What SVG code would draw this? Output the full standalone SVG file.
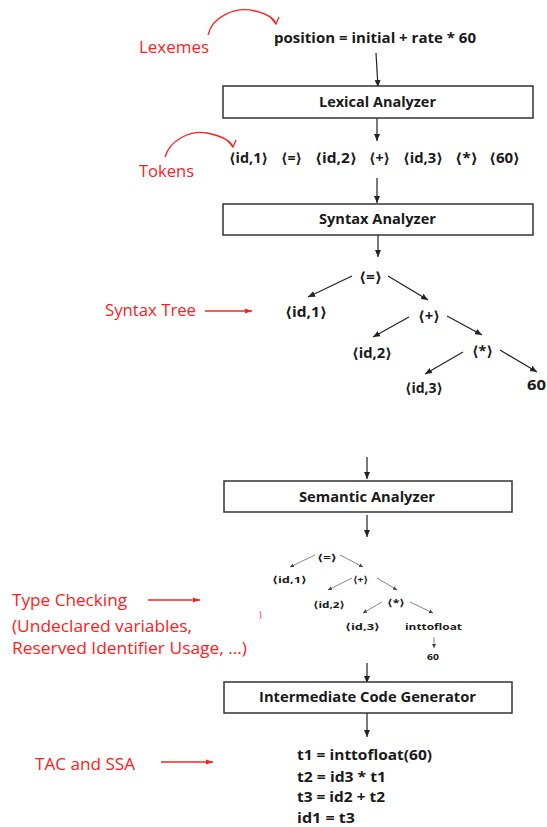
<svg xmlns="http://www.w3.org/2000/svg" width="547" height="827" viewBox="0 0 547 827">
  <defs>
    <marker id="ah" markerUnits="userSpaceOnUse" markerWidth="8" markerHeight="8" refX="7" refY="4" orient="auto">
      <path d="M0,1 L7,4 L0,7 Z" fill="#222"/>
    </marker>
    <marker id="ahs" markerUnits="userSpaceOnUse" markerWidth="5" markerHeight="5" refX="4" refY="2.5" orient="auto">
      <path d="M0,0.5 L4,2.5 L0,4.5 Z" fill="#444"/>
    </marker>
    <marker id="ahr" markerUnits="userSpaceOnUse" markerWidth="8" markerHeight="8" refX="7" refY="4" orient="auto">
      <path d="M0,1.5 L7,4 L0,6.5 Z" fill="#ff2020"/>
    </marker>
  </defs>
  <style>
    .t { font-family: "Open Sans", "DejaVu Sans", sans-serif; font-weight: bold; fill: #1a1a1a; }
    .m { font-size: 14px; }
    .s { font-size: 9.5px; }
    .r { font-family: "Open Sans", "Liberation Sans", sans-serif; font-size: 16px; fill: #ff2020; }
    .box { fill: #fff; stroke: #333; stroke-width: 1.5; }
    .e { stroke: #222; stroke-width: 1.2; fill: none; marker-end: url(#ah); }
    .es { stroke: #888; stroke-width: 1; fill: none; marker-end: url(#ahs); }
    .er { stroke: #ff2020; stroke-width: 1.3; fill: none; marker-end: url(#ahr); }
    .cr { stroke: #ff2020; stroke-width: 1.3; fill: none; }
  </style>

  <!-- connectors -->
  <g id="connectors">
    <!-- main pipeline -->
    <path class="e" d="M376,53 L378,87"/>
    <path class="e" d="M377,118 L377,141"/>
    <path class="e" d="M377,178 L377,203"/>
    <path class="e" d="M378,235 L378,257"/>
    <path class="e" d="M367,457 L367,479"/>
    <path class="e" d="M367,515 L367,537"/>
    <path class="e" d="M367,663 L367,683"/>
    <path class="e" d="M367,713 L367,737"/>
    <!-- syntax tree edges -->
    <path class="e" d="M352,276 L308,297"/>
    <path class="e" d="M388,276 L428,300"/>
    <path class="e" d="M409,317 L373,337"/>
    <path class="e" d="M447,316 L482,335"/>
    <path class="e" d="M463,352 L425,374"/>
    <path class="e" d="M500,350 L537,372"/>
    <!-- annotated tree edges -->
    <path class="es" d="M315,555 L290,567"/>
    <path class="es" d="M340,555 L363,567"/>
    <path class="es" d="M352,578 L328,590"/>
    <path class="es" d="M377,578 L397,590"/>
    <path class="es" d="M382,602 L363,613"/>
    <path class="es" d="M410,602 L433,613"/>
    <path class="es" d="M434,637 L434,648"/>
    <!-- red annotation arrows -->
    <path class="er" d="M205,311 L252,311"/>
    <path class="er" d="M148,600 L200,600"/>
    <path class="er" d="M161,762 L213,762"/>
    <path class="cr" d="M208,35 C212,17 235,6 255,11 C268,14 274,18 276,24"/>
    <path class="cr" d="M271,18 L276,24 L279,17"/>
    <path class="cr" d="M165,157 C170,140 190,130 207,133 C222,136 230,140 233,147"/>
    <path class="cr" d="M228,141 L233,147 L236,140"/>
  </g>

  <!-- source lexemes -->
  <g id="lexemes">
    <text class="t m" x="274" y="43" textLength="202" lengthAdjust="spacingAndGlyphs">position = initial + rate * 60</text>
  </g>

  <g id="lexical-analyzer">
    <rect class="box" x="223" y="86" width="310" height="32"/>
    <text class="t m" x="319" y="107" textLength="117" lengthAdjust="spacingAndGlyphs">Lexical Analyzer</text>
  </g>

  <!-- token stream -->
  <g id="tokens">
    <text class="t m" x="229" y="163" textLength="39" lengthAdjust="spacingAndGlyphs">⟨id,1⟩</text>
    <text class="t m" x="281" y="163" textLength="21" lengthAdjust="spacingAndGlyphs">⟨=⟩</text>
    <text class="t m" x="315" y="163" textLength="42" lengthAdjust="spacingAndGlyphs">⟨id,2⟩</text>
    <text class="t m" x="369" y="163" textLength="21" lengthAdjust="spacingAndGlyphs">⟨+⟩</text>
    <text class="t m" x="403" y="163" textLength="40" lengthAdjust="spacingAndGlyphs">⟨id,3⟩</text>
    <text class="t m" x="455" y="163" textLength="23" lengthAdjust="spacingAndGlyphs">⟨*⟩</text>
    <text class="t m" x="489" y="163" textLength="31" lengthAdjust="spacingAndGlyphs">⟨60⟩</text>
  </g>

  <g id="syntax-analyzer">
    <rect class="box" x="223" y="204" width="310" height="31"/>
    <text class="t m" x="319" y="224" textLength="117" lengthAdjust="spacingAndGlyphs">Syntax Analyzer</text>
  </g>

  <!-- syntax tree -->
  <g id="syntax-tree">
    <text class="t m" x="359" y="282" textLength="23" lengthAdjust="spacingAndGlyphs">⟨=⟩</text>
    <text class="t m" x="285" y="317" textLength="42" lengthAdjust="spacingAndGlyphs">⟨id,1⟩</text>
    <text class="t m" x="418" y="321" textLength="22" lengthAdjust="spacingAndGlyphs">⟨+⟩</text>
    <text class="t m" x="352" y="358" textLength="40" lengthAdjust="spacingAndGlyphs">⟨id,2⟩</text>
    <text class="t m" x="472" y="356" textLength="21" lengthAdjust="spacingAndGlyphs">⟨*⟩</text>
    <text class="t m" x="405" y="393" textLength="38" lengthAdjust="spacingAndGlyphs">⟨id,3⟩</text>
    <text class="t m" x="527" y="390" textLength="19" lengthAdjust="spacingAndGlyphs">60</text>
  </g>

  <g id="semantic-analyzer">
    <rect class="box" x="224" y="481" width="288" height="31"/>
    <text class="t m" x="299" y="502" textLength="136" lengthAdjust="spacingAndGlyphs">Semantic Analyzer</text>
  </g>

  <!-- annotated syntax tree -->
  <g id="annotated-tree">
    <text class="t s" x="317" y="561" textLength="20" lengthAdjust="spacingAndGlyphs">⟨=⟩</text>
    <text class="t s" x="272" y="583" textLength="35" lengthAdjust="spacingAndGlyphs">⟨id,1⟩</text>
    <text class="t s" x="353" y="583" textLength="15" lengthAdjust="spacingAndGlyphs">⟨+⟩</text>
    <text class="t s" x="313" y="608" textLength="32" lengthAdjust="spacingAndGlyphs">⟨id,2⟩</text>
    <text class="t s" x="387" y="606" textLength="18" lengthAdjust="spacingAndGlyphs">⟨*⟩</text>
    <text class="t s" x="345" y="630" textLength="35" lengthAdjust="spacingAndGlyphs">⟨id,3⟩</text>
    <text class="t s" x="405" y="630" textLength="57" lengthAdjust="spacingAndGlyphs">inttofloat</text>
    <text class="t s" x="427" y="660" textLength="12" lengthAdjust="spacingAndGlyphs">60</text>
  </g>

  <g id="intermediate-code-generator">
    <rect class="box" x="224" y="682" width="288" height="31"/>
    <text class="t m" x="259" y="702" textLength="217" lengthAdjust="spacingAndGlyphs">Intermediate Code Generator</text>
  </g>

  <!-- three-address code -->
  <g id="tac">
    <text class="t m" x="297" y="760" textLength="135" lengthAdjust="spacingAndGlyphs">t1 = inttofloat(60)</text>
    <text class="t m" x="297" y="782" textLength="89" lengthAdjust="spacingAndGlyphs">t2 = id3 * t1</text>
    <text class="t m" x="297" y="802" textLength="88" lengthAdjust="spacingAndGlyphs">t3 = id2 + t2</text>
    <text class="t m" x="297" y="823" textLength="58" lengthAdjust="spacingAndGlyphs">id1 = t3</text>
  </g>

  <!-- annotations -->
  <g id="labels">
    <text class="r" x="139" y="53" textLength="70" lengthAdjust="spacingAndGlyphs">Lexemes</text>
    <text class="r" x="139" y="177" textLength="55" lengthAdjust="spacingAndGlyphs">Tokens</text>
    <text class="r" x="105" y="316" textLength="91" lengthAdjust="spacingAndGlyphs">Syntax Tree</text>
    <text class="r" x="12" y="606" textLength="115" lengthAdjust="spacingAndGlyphs">Type Checking</text>
    <text class="r" x="12" y="632" textLength="180" lengthAdjust="spacingAndGlyphs">(Undeclared variables,</text>
    <text class="r" x="12" y="654" textLength="235" lengthAdjust="spacingAndGlyphs">Reserved Identifier Usage, …)</text>
    <text class="r" x="259" y="618" style="font-size:9px">)</text>
    <text class="r" x="35" y="770" textLength="100" lengthAdjust="spacingAndGlyphs">TAC and SSA</text>
  </g>
</svg>
